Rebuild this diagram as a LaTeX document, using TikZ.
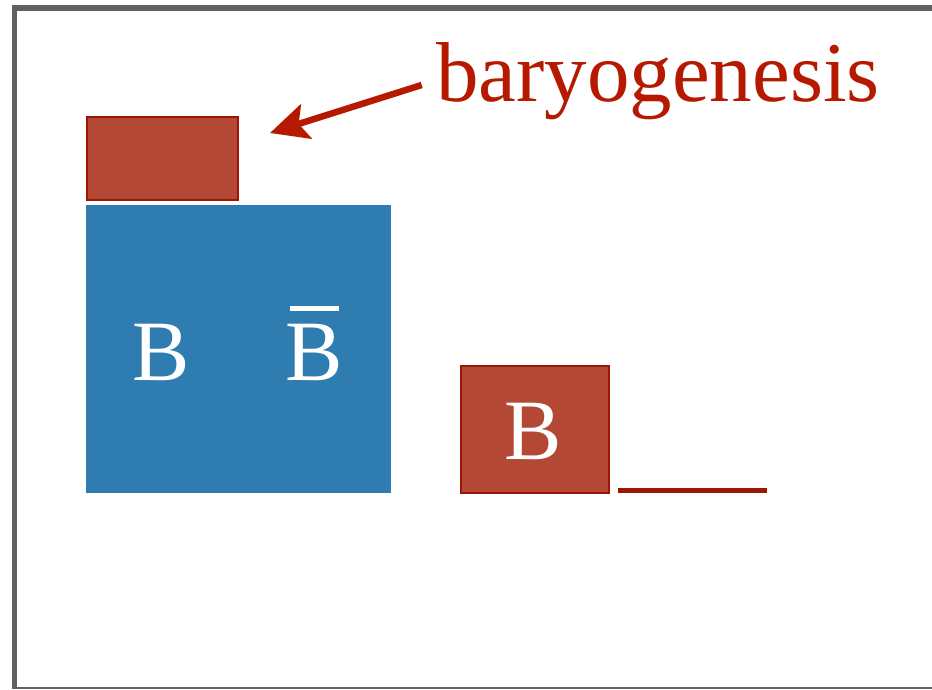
\documentclass[tikz,border=0pt]{standalone}
\usepackage{fontspec}
\setmainfont{Liberation Serif}
\definecolor{framegray}{HTML}{606060}
\definecolor{boxred}{HTML}{B34834}
\definecolor{edgered}{HTML}{9C1606}
\definecolor{textred}{HTML}{B51A00}
\definecolor{boxblue}{HTML}{2E7CB0}
\usetikzlibrary{arrows.meta}
\tikzset{
  redbox/.style={fill=boxred, draw=edgered, line width=2pt},
  bluebox/.style={fill=boxblue, draw=none},
  bigB/.style={text=white, font=\fontsize{86}{86}\selectfont, anchor=base, inner sep=0pt},
  label/.style={text=textred, font=\fontsize{85}{85}\selectfont, anchor=base west, inner sep=0pt},
  pointer/.style={draw=textred, line width=6.5pt, -{Stealth[length=38pt,width=36pt,inset=8pt]}}
}
\begin{document}
\begin{tikzpicture}[x=1pt,y=-1pt]
\useasboundingbox (0,0) rectangle (932,690);
% frame
\fill[framegray] (12,5) rectangle (932,11);
\fill[framegray] (12,5) rectangle (16.7,689);
\fill[framegray] (12,686.8) rectangle (932,689);
% boxes
\node[redbox, minimum width=151pt, minimum height=82pt, inner sep=0pt] (top) at (162.4,158.5) {};
\node[bluebox, minimum width=305pt, minimum height=288pt, inner sep=0pt] (blue) at (238.5,349) {};
\node[redbox, minimum width=148pt, minimum height=127pt, inner sep=0pt] (res) at (534.5,429) {};
\coordinate (lineA) at (618,490.5);
\coordinate (lineB) at (767,490.5);
\draw[edgered, line width=5pt] (lineA) -- (lineB);
% letters
\node[bigB] (b1) at (161,380) {B};
\node[bigB] (b2) at (314,380) {B};
\fill[white] (290,306) rectangle (339,310.7);
\node[bigB] (b3) at (533,459.3) {B};
% label and arrow
\node[label] (lab) at (436,101.7) {baryogenesis};
\coordinate (tail) at (421.7,85);
\coordinate (tip) at (270,133);
\draw[pointer] (tail) -- (tip);
\end{tikzpicture}
\end{document}
